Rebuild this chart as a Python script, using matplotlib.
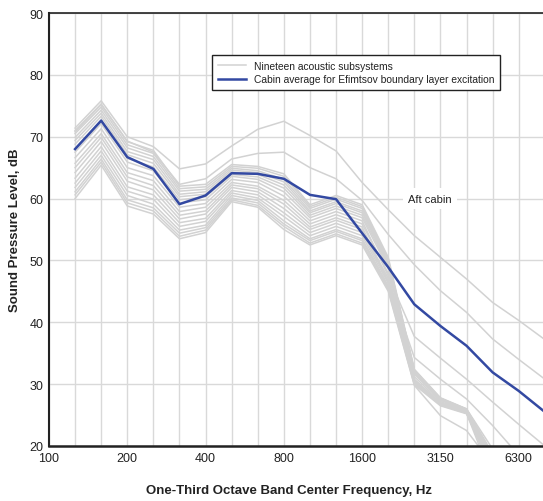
import numpy as np
import matplotlib
matplotlib.use("Agg")
import matplotlib.pyplot as plt
from matplotlib.lines import Line2D

# one-third octave bands, Hz (axis positions are band indices)
all_bands = [100, 125, 160, 200, 250, 315, 400, 500, 630, 800, 1000, 1250,
             1600, 2000, 2500, 3150, 4000, 5000, 6300, 8000]
bands = all_bands[1:]
tick_bands = [100, 200, 400, 800, 1600, 3150, 6300]

# cabin average, Efimtsov excitation (dB)
cabin_avg = [68.0, 72.6, 66.7, 64.8, 59.1, 60.5, 64.1, 64.0, 63.2, 60.6,
             59.9, 54.4, 48.9, 42.9, 39.4, 36.2, 31.9, 28.9, 25.5]

# nineteen acoustic subsystems (dB), one row per subsystem
subsystems = [
    [71.4, 75.8, 70.0, 68.4, 64.8, 65.6, 68.5, 71.2, 72.5, 70.2, 67.7, 62.6, 58.2, 54.0, 50.5, 47.0, 43.2, 40.3, 37.2],
    [70.8, 75.2, 69.3, 67.5, 62.3, 63.2, 66.4, 67.3, 67.5, 65.0, 63.2, 59.7, 54.2, 49.3, 45.1, 41.6, 37.3, 34.0, 30.8],
    [71.0, 75.3, 69.2, 67.8, 62.0, 62.3, 65.5, 65.2, 64.0, 59.0, 60.5, 59.0, 50.5, 32.4, 27.8, 26.0, 19.5, 14.0, 10.0],
    [70.5, 74.8, 68.7, 67.3, 61.6, 61.9, 65.2, 64.9, 63.6, 58.7, 60.2, 58.7, 50.2, 32.3, 27.7, 26.0, 18.5, 13.0, 9.0],
    [69.9, 74.3, 68.2, 66.8, 61.2, 61.5, 64.9, 64.5, 63.1, 58.4, 59.9, 58.4, 49.9, 32.1, 27.7, 25.9, 17.5, 12.0, 8.0],
    [69.4, 73.8, 67.6, 66.3, 60.7, 61.1, 64.6, 64.2, 62.7, 58.0, 59.5, 58.0, 49.7, 32.0, 27.6, 25.9, 18.8, 13.5, 9.5],
    [68.8, 73.3, 67.1, 65.7, 60.3, 60.7, 64.3, 63.9, 62.2, 57.7, 59.2, 57.7, 49.4, 31.9, 27.5, 25.8, 16.5, 11.0, 7.0],
    [68.1, 72.7, 66.5, 65.1, 59.8, 60.3, 63.9, 63.5, 61.7, 57.3, 58.8, 57.3, 49.1, 31.7, 27.5, 25.8, 17.0, 12.0, 8.0],
    [67.5, 72.1, 65.9, 64.5, 59.3, 59.8, 63.6, 63.1, 61.1, 56.9, 58.4, 56.9, 48.7, 31.6, 27.4, 25.7, 18.0, 13.0, 9.0],
    [66.6, 71.3, 65.0, 63.7, 58.6, 59.2, 63.1, 62.6, 60.4, 56.4, 57.9, 56.4, 47.5, 37.7, 34.2, 30.8, 27.1, 23.5, 20.0],
    [65.7, 70.5, 64.2, 62.9, 57.9, 58.6, 62.6, 62.0, 59.7, 55.9, 57.4, 55.9, 47.9, 31.2, 27.2, 25.6, 15.5, 10.0, 6.0],
    [65.0, 69.9, 63.5, 62.1, 57.3, 58.0, 62.2, 61.6, 59.1, 55.4, 56.9, 55.4, 46.5, 34.3, 30.8, 27.6, 23.3, 18.5, 14.5],
    [64.2, 69.2, 62.8, 61.4, 56.7, 57.5, 61.8, 61.1, 58.4, 55.0, 56.5, 55.0, 47.1, 30.8, 27.0, 25.5, 17.5, 12.0, 8.0],
    [63.3, 68.4, 61.9, 60.6, 56.1, 56.8, 61.3, 60.6, 57.7, 54.5, 56.0, 54.5, 46.7, 30.6, 26.9, 25.4, 16.0, 11.0, 7.0],
    [62.5, 67.7, 61.2, 59.9, 55.5, 56.3, 60.9, 60.1, 57.1, 54.0, 55.5, 54.0, 46.3, 30.4, 26.8, 25.4, 18.5, 13.0, 9.0],
    [61.8, 67.0, 60.5, 59.1, 54.9, 55.7, 60.5, 59.7, 56.4, 53.5, 55.0, 53.5, 45.9, 30.2, 26.7, 25.3, 14.5, 9.0, 5.0],
    [61.1, 66.4, 59.8, 58.5, 54.4, 55.3, 60.1, 59.3, 55.9, 53.2, 54.7, 53.2, 45.6, 30.1, 26.6, 25.3, 17.0, 12.0, 8.0],
    [60.6, 65.9, 59.3, 58.0, 53.9, 54.9, 59.8, 58.9, 55.5, 52.8, 54.3, 52.8, 45.3, 29.9, 26.5, 25.2, 16.0, 11.0, 7.0],
    [60.0, 65.4, 58.8, 57.5, 53.5, 54.5, 59.5, 58.6, 55.0, 52.5, 54.0, 52.5, 45.0, 29.8, 24.9, 22.5, 17.0, 12.0, 8.0],
]

plt.rcParams['font.family'] = ['Liberation Sans', 'DejaVu Sans']

grey = '#d2d2d2'
blue = '#3349a2'

fig = plt.figure(figsize=(5.43, 5.02), dpi=100)
ax = fig.add_axes([0.0902, 0.1096, 0.9098, 0.8625])

pos = [all_bands.index(b) for b in bands]
for row in subsystems:
    ax.plot(pos, row, color=grey, lw=1.1, zorder=2)
ax.plot(pos, cabin_avg, color=blue, lw=1.8, zorder=3)

ax.set_xlim(0, 18.93)
ax.set_ylim(20, 90)

ax.set_xticks(range(0, 19))
ax.set_xticklabels([str(b) if b in tick_bands else '' for b in all_bands[:19]])
ax.set_yticks(range(20, 91, 10))
ax.tick_params(length=0, labelsize=9, colors='#222222', pad=4)
ax.grid(True, color='#d9d9d9', lw=1.0)
ax.set_axisbelow(True)

ax.spines['right'].set_visible(False)
ax.spines['left'].set_linewidth(1.5)
ax.spines['bottom'].set_linewidth(1.8)
ax.spines['top'].set_linewidth(1.2)
for s in ['left', 'bottom', 'top']:
    ax.spines[s].set_color('#222222')

ax.text(14.6, 60, 'Aft cabin', ha='center', va='center', fontsize=8,
        color='#222222', zorder=4,
        bbox=dict(facecolor='white', edgecolor='none', pad=4))

handles = [Line2D([], [], color=grey, lw=1.1),
           Line2D([], [], color=blue, lw=1.8)]
labels = ['Nineteen acoustic subsystems',
          'Cabin average for Efimtsov boundary layer excitation']
leg = ax.legend(handles, labels, loc='upper left', bbox_to_anchor=(0.33, 0.903),
                borderaxespad=0, fontsize=7.4, fancybox=False, framealpha=1,
                edgecolor='#222222', handlelength=2.8, handletextpad=0.7,
                labelspacing=0.35, borderpad=0.55)
leg.get_frame().set_linewidth(1.0)
for t in leg.get_texts():
    t.set_color('#222222')

fig.text(288.5 / 543, 1 - 491 / 502, 'One-Third Octave Band Center Frequency, Hz',
         ha='center', va='center', fontsize=9.5, fontweight='bold', color='#222222')
fig.text(15 / 543, 1 - 230 / 502, 'Sound Pressure Level, dB', rotation=90,
         ha='center', va='center', fontsize=9.5, fontweight='bold', color='#222222')

fig.savefig('out.png', dpi=100)
